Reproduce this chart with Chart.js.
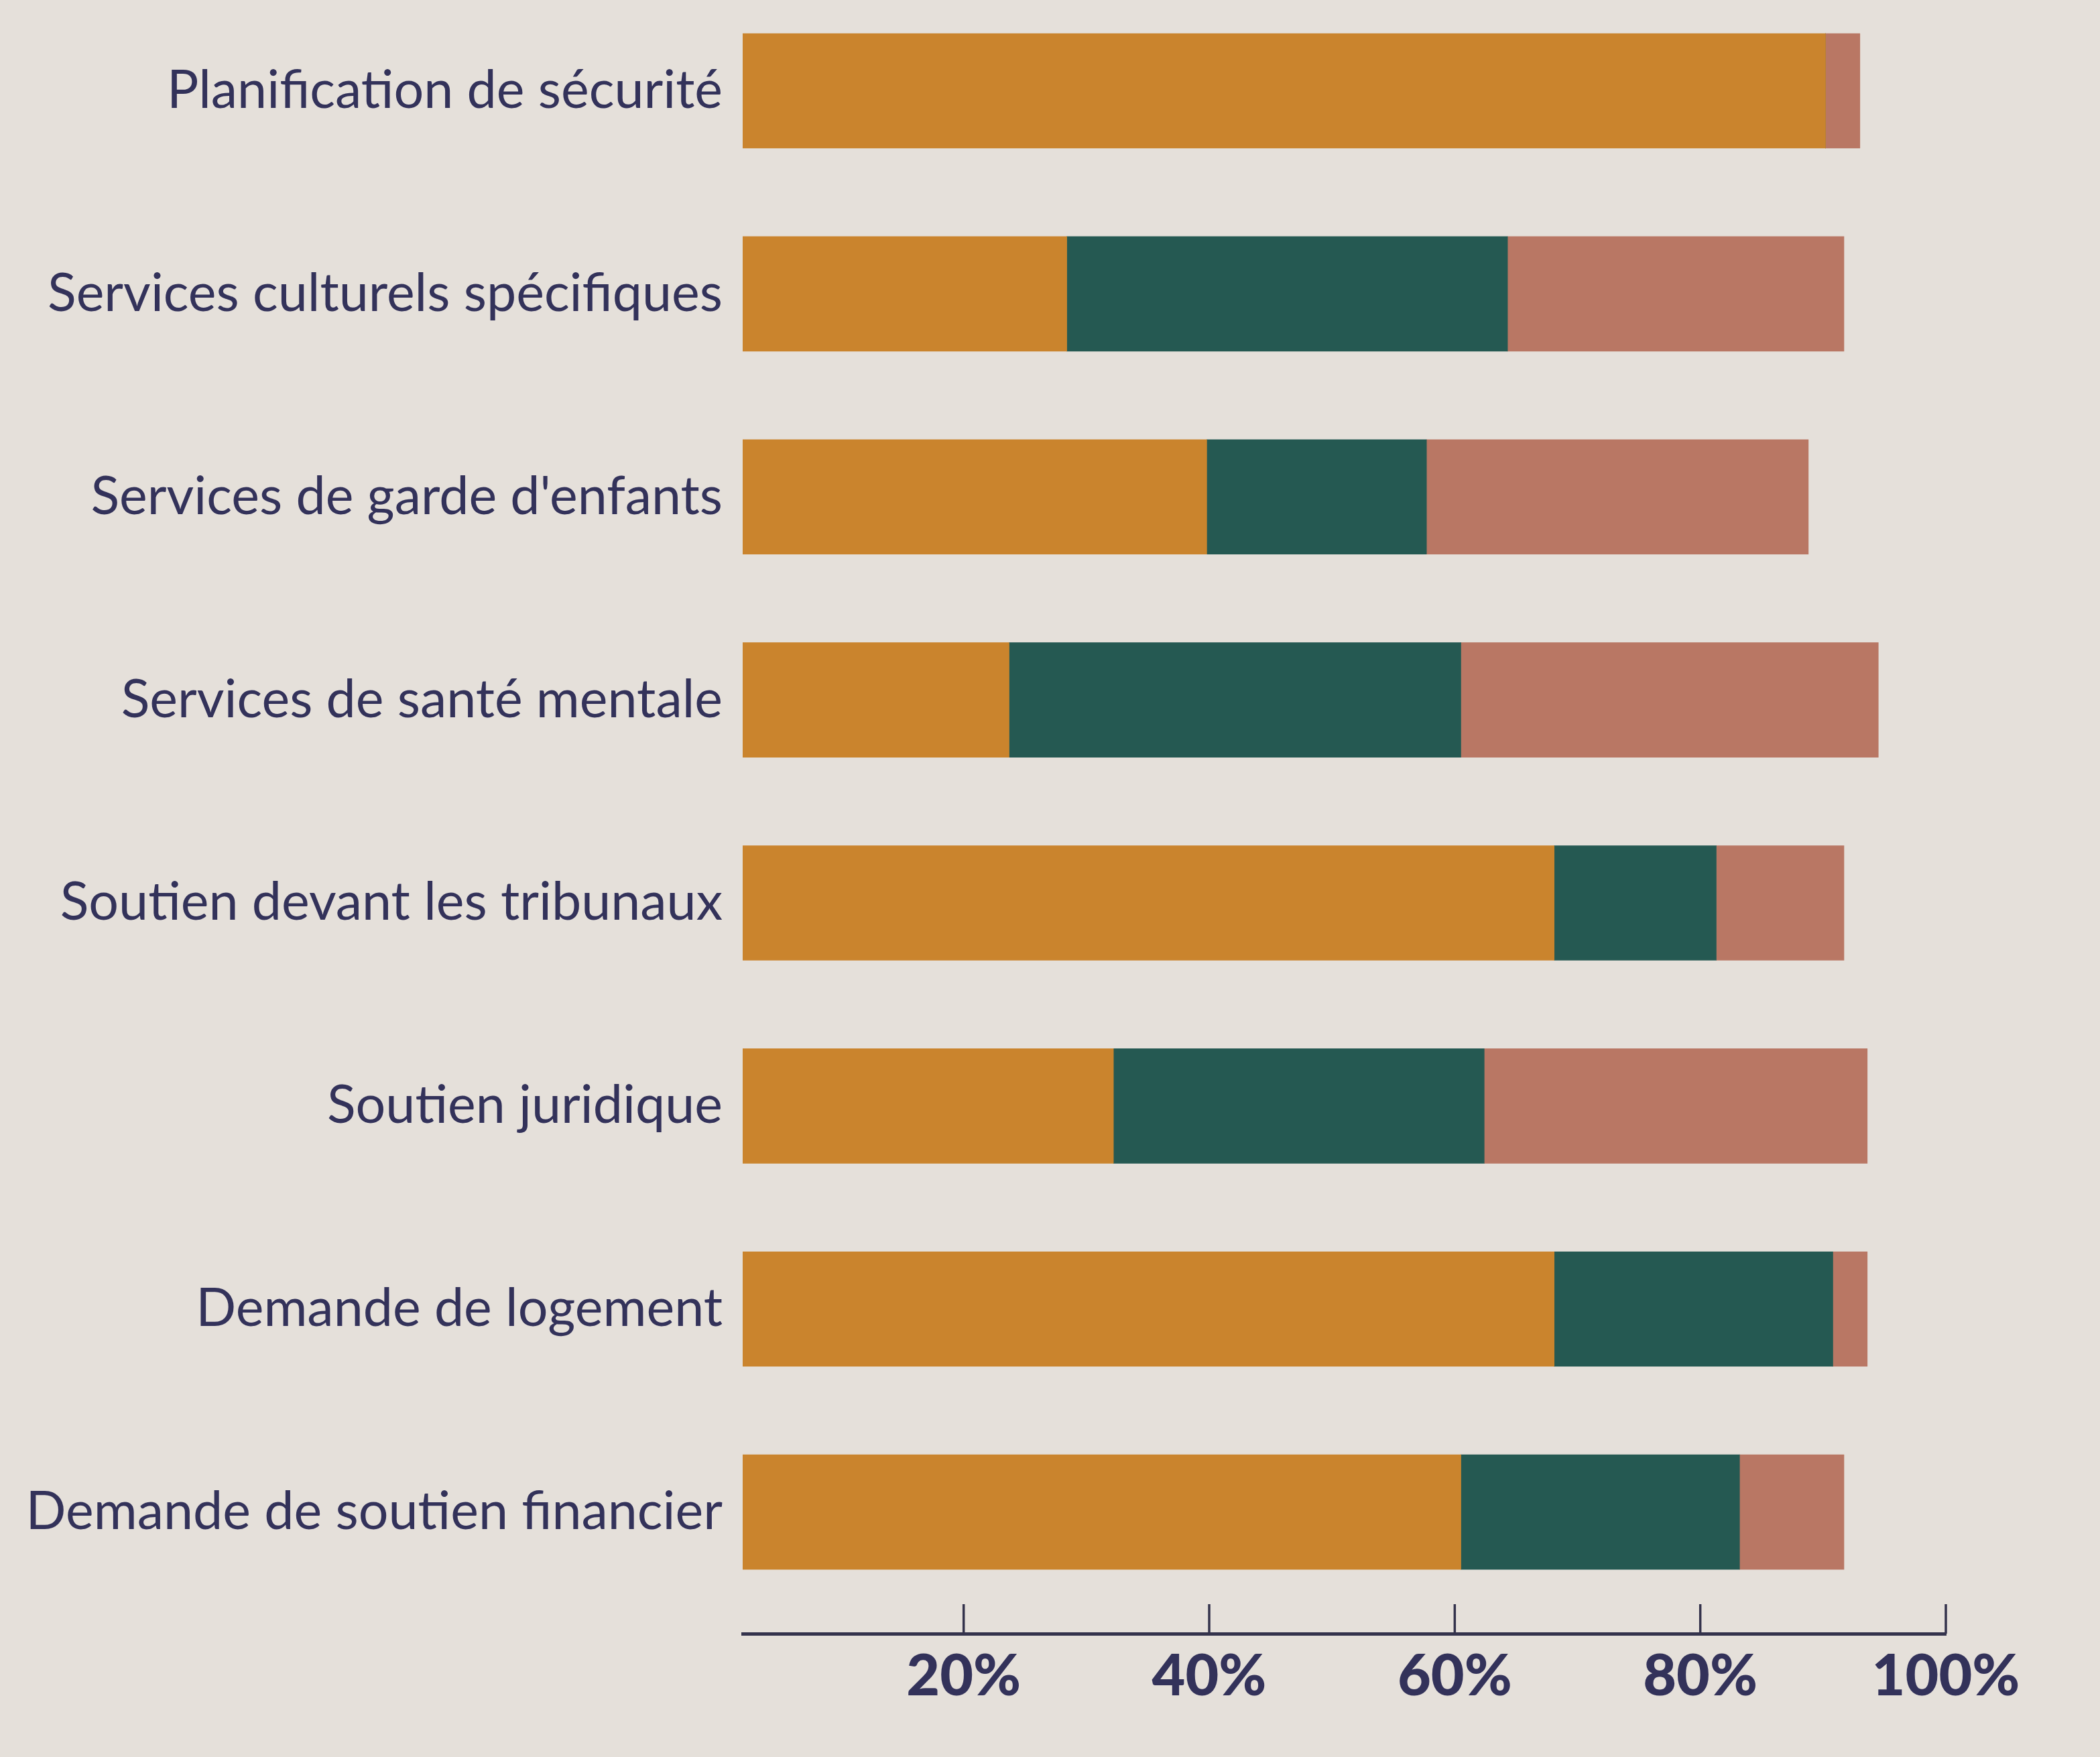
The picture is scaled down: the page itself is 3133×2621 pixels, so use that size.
<!DOCTYPE html>
<html>
<head>
<meta charset="utf-8">
<script src="https://cdn.jsdelivr.net/npm/chart.js@4"></script>
<style>
  html, body { margin: 0; padding: 0; background: #E5E0DA; }
  #wrap { width: 3133px; height: 2621px; position: relative; }
</style>
</head>
<body>
<div id="wrap"><canvas id="c"></canvas></div>
<script>
const categories = [
  "Planification de sécurité",
  "Services culturels spécifiques",
  "Services de garde d'enfants",
  "Services de santé mentale",
  "Soutien devant les tribunaux",
  "Soutien juridique",
  "Demande de logement",
  "Demande de soutien financier"
];
const seriesOrange = [90.2, 28.4, 39.8, 23.7, 68.1, 32.2, 68.1, 60.5];
const seriesGreen  = [0,    35.9, 17.9, 36.8, 13.2, 30.2, 22.7, 22.7];
const seriesSalmon = [2.8,  27.4, 31.1, 34.0, 10.4, 31.2,  2.8,  8.5];
const tickValues = [20, 40, 60, 80, 100];
const tickLabels = ["20%", "40%", "60%", "80%", "100%"];

const INK = '#33325A';
const AXIS = '#34334C';

const toPoints = arr => arr.map((v, i) => ({ x: v, y: i }));

const upTicks = {
  id: 'upTicks',
  afterDraw(chart) {
    const xs = chart.scales.x;
    const ctx = chart.ctx;
    const bottom = chart.chartArea.bottom;
    ctx.save();
    ctx.strokeStyle = AXIS;
    ctx.lineWidth = 3.5;
    tickValues.forEach(v => {
      const px = xs.getPixelForValue(v);
      ctx.beginPath();
      ctx.moveTo(px, bottom - 44);
      ctx.lineTo(px, bottom);
      ctx.stroke();
    });
    ctx.restore();
  }
};

new Chart(document.getElementById('c'), {
  type: 'bar',
  data: {
    datasets: [
      { data: toPoints(seriesOrange), backgroundColor: '#CA842D' },
      { data: toPoints(seriesGreen),  backgroundColor: '#255952' },
      { data: toPoints(seriesSalmon), backgroundColor: '#B97764' }
    ]
  },
  options: {
    indexAxis: 'y',
    responsive: true,
    maintainAspectRatio: false,
    animation: false,
    layout: { padding: { left: 0, right: 230, top: 0, bottom: 0 } },
    datasets: { bar: { barThickness: 171, borderWidth: 0 } },
    plugins: { legend: { display: false }, tooltip: { enabled: false } },
    scales: {
      x: {
        type: 'linear',
        stacked: true,
        min: 2,
        max: 100,
        afterBuildTicks: s => { s.ticks = tickValues.map(v => ({ value: v })); },
        afterFit: s => { s.height = 184; s.paddingLeft = 0; s.paddingRight = 0; },
        grid: { display: false, drawTicks: false },
        border: { display: true, color: AXIS, width: 5 },
        ticks: {
          padding: 13,
          color: INK,
          font: { family: 'Lato', size: 86, weight: '900' },
          maxRotation: 0,
          autoSkip: false,
          callback: v => tickLabels[tickValues.indexOf(v)]
        }
      },
      y: {
        type: 'linear',
        stacked: true,
        reverse: true,
        offset: false,
        min: -0.4473,
        max: 7.599,
        afterBuildTicks: s => { s.ticks = categories.map((c, i) => ({ value: i })); },
        afterFit: s => { s.width = 1108; s.paddingTop = 0; s.paddingBottom = 0; },
        grid: { display: false, drawTicks: false, offset: false },
        border: { display: false },
        ticks: {
          padding: 30,
          color: INK,
          font: { family: 'Lato', size: 79, weight: 'normal' },
          autoSkip: false,
          callback: v => categories[v]
        }
      }
    }
  },
  plugins: [upTicks]
});
</script>
</body>
</html>
